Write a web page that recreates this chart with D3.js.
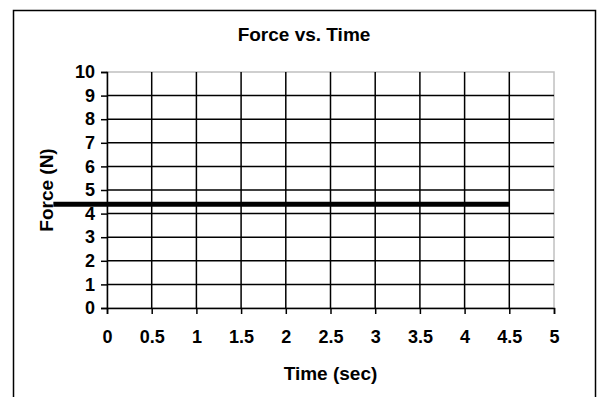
<!DOCTYPE html>
<html>
<head>
<meta charset="utf-8">
<script src="https://cdn.jsdelivr.net/npm/d3@7"></script>
<style>
  body { margin: 0; background: #fff; }
  svg text { font-family: "Liberation Sans", Arial, Helvetica, sans-serif; font-weight: bold; fill: #000; }
</style>
</head>
<body>
<div id="chart"></div>
<script>
// Data
const timeTicks = [0, 0.5, 1, 1.5, 2, 2.5, 3, 3.5, 4, 4.5, 5];
const forceTicks = [0, 1, 2, 3, 4, 5, 6, 7, 8, 9, 10];
const lineTime = [-0.6, 4.5];
const lineForce = [4.4, 4.4];

const width = 600, height = 397;
const margin = { left: 107, right: 46, top: 72, bottom: 89 };

const svg = d3.select('#chart').append('svg')
    .attr('width', width)
    .attr('height', height);

// Outer chart border
svg.append('rect')
    .attr('x', 13.5).attr('y', 10.5)
    .attr('width', 582).attr('height', 400)
    .attr('fill', 'none')
    .attr('stroke', '#000')
    .attr('stroke-width', 1.5);

const x = d3.scaleLinear().domain([0, 5]).range([margin.left, width - margin.right]);
const y = d3.scaleLinear().domain([0, 10]).range([height - margin.bottom, margin.top]);

// Plot area outline (light gray)
svg.append('rect')
    .attr('x', x(0)).attr('y', y(10))
    .attr('width', x(5) - x(0)).attr('height', y(0) - y(10))
    .attr('fill', 'none')
    .attr('stroke', '#c0c0c0')
    .attr('stroke-width', 1.5);

// Gridlines
const grid = svg.append('g').attr('stroke', '#000').attr('stroke-width', 1.5);
grid.selectAll('line.v')
    .data(timeTicks.filter(t => t > 0 && t < 5))
    .join('line')
    .attr('class', 'v')
    .attr('x1', d => x(d)).attr('x2', d => x(d))
    .attr('y1', y(10)).attr('y2', y(0));
grid.selectAll('line.h')
    .data(forceTicks.filter(f => f > 0 && f < 10))
    .join('line')
    .attr('class', 'h')
    .attr('x1', x(0)).attr('x2', x(5))
    .attr('y1', d => y(d)).attr('y2', d => y(d));

// Axes
const xAxis = svg.append('g')
    .attr('transform', `translate(0,${y(0)})`)
    .call(d3.axisBottom(x).tickValues(timeTicks).tickSize(6).tickPadding(16)
        .tickFormat(d3.format('')));
const yAxis = svg.append('g')
    .attr('transform', `translate(${x(0)},0)`)
    .call(d3.axisLeft(y).tickValues(forceTicks).tickSize(6).tickPadding(6));

[xAxis, yAxis].forEach(a => {
    a.select('.domain').attr('stroke', '#000').attr('stroke-width', 1.5);
    a.selectAll('.tick line').attr('stroke', '#000').attr('stroke-width', 1.5);
    a.selectAll('.tick text').attr('font-size', 18).attr('fill', '#000');
});

// Force line
const line = d3.line()
    .x((d, i) => x(lineTime[i]))
    .y(d => y(d));
svg.append('path')
    .datum(lineForce)
    .attr('d', line)
    .attr('fill', 'none')
    .attr('stroke', '#000')
    .attr('stroke-width', 5);

// Titles
svg.append('text')
    .attr('x', 304).attr('y', 41)
    .attr('text-anchor', 'middle')
    .attr('font-size', 19)
    .text('Force vs. Time');

svg.append('text')
    .attr('x', (x(0) + x(5)) / 2).attr('y', 380)
    .attr('text-anchor', 'middle')
    .attr('font-size', 19)
    .text('Time (sec)');

svg.append('text')
    .attr('transform', `translate(53,${(y(0) + y(10)) / 2}) rotate(-90)`)
    .attr('text-anchor', 'middle')
    .attr('font-size', 19)
    .text('Force (N)');
</script>
</body>
</html>
